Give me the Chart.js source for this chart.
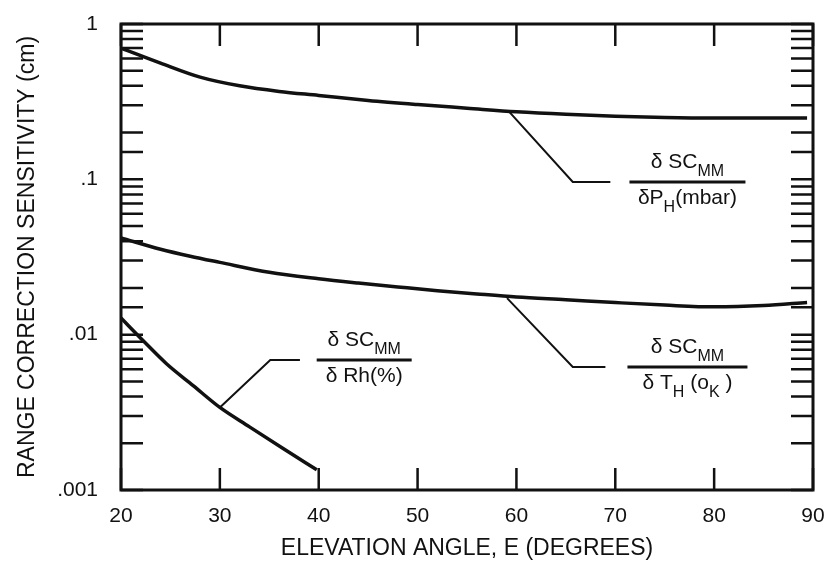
<!DOCTYPE html>
<html>
<head>
<meta charset="utf-8">
<script src="https://cdn.jsdelivr.net/npm/chart.js@4/dist/chart.umd.min.js"></script>
<style>
  body { margin: 0; background: #fff; }
  canvas { display: block; }
</style>
</head>
<body>
<canvas id="sensChart" width="824" height="562"></canvas>
<script>
// Elevation angle (degrees) and sensitivity (cm)
const elevP = [20, 24, 28, 32, 36, 40, 45, 50, 55, 60, 65, 70, 75, 80, 85, 89.4];
const sensP = [0.70, 0.56, 0.455, 0.40, 0.368, 0.347, 0.322, 0.303, 0.287, 0.272, 0.262, 0.255, 0.25, 0.248, 0.248, 0.248];

const elevT = [20, 24, 27, 30, 35, 40, 44, 48, 52, 56, 60, 65, 70, 75, 80, 85, 89.4];
const sensT = [0.042, 0.0355, 0.032, 0.0292, 0.0252, 0.0229, 0.0215, 0.0203, 0.0192, 0.0183, 0.0175, 0.0168, 0.0161, 0.0155, 0.0151, 0.0154, 0.0161];

const elevRh = [20, 22.2, 24.6, 27.3, 30, 33, 36.4, 39.8];
const sensRh = [0.0128, 0.0092, 0.0065, 0.0047, 0.0034, 0.00255, 0.00185, 0.00135];

// Axis ticks
const xTicks = [20, 30, 40, 50, 60, 70, 80, 90];
const yTickValues = [0.001, 0.01, 0.1, 1];
const yTickLabels = ['.001', '.01', '.1', '1'];

const ink = '#111';
const family = '"Liberation Sans", Arial, sans-serif';

// Curve labels: leader line (data units) and fraction text
const curveLabels = [
    {
        leader: [[59.3, 0.271], [65.7, 0.0961], [69.5, 0.0961]],
        at: [77.3, 0.0961], lineWidth: 116,
        num: [{ t: 'δ SC' }, { t: 'MM', sub: true }],
        den: [{ t: 'δP' }, { t: 'H', sub: true }, { t: '(mbar)' }]
    },
    {
        leader: [[59.05, 0.0172], [65.7, 0.0062], [69.0, 0.0062]],
        at: [77.3, 0.0062], lineWidth: 120,
        num: [{ t: 'δ SC' }, { t: 'MM', sub: true }],
        den: [{ t: 'δ T' }, { t: 'H', sub: true }, { t: ' (o' }, { t: 'K', sub: true }, { t: ' )' }]
    },
    {
        leader: [[30.0, 0.0034], [35.1, 0.00687], [38.1, 0.00687]],
        at: [44.6, 0.00687], lineWidth: 95,
        num: [{ t: 'δ SC' }, { t: 'MM', sub: true }],
        den: [{ t: 'δ Rh(%)' }]
    }
];

function toPoints(xs, ys) {
    return xs.map((x, i) => ({ x: x, y: ys[i] }));
}

// Width of a run of text pieces (some subscripted)
function partsWidth(ctx, parts) {
    let w = 0;
    parts.forEach(p => {
        ctx.font = (p.sub ? '16px ' : '21px ') + family;
        w += ctx.measureText(p.t).width;
    });
    return w;
}

function drawParts(ctx, parts, cx, baseline) {
    let x = cx - partsWidth(ctx, parts) / 2;
    parts.forEach(p => {
        ctx.font = (p.sub ? '16px ' : '21px ') + family;
        ctx.fillText(p.t, x, baseline + (p.sub ? 8 : 0));
        x += ctx.measureText(p.t).width;
    });
}

// Frame, inward ticks, leader lines and fraction labels
const framePlugin = {
    id: 'framePlugin',
    afterDatasetsDraw(chart) {
        const { ctx, chartArea: a, scales: { x, y } } = chart;
        const tickLen = 22;
        ctx.save();
        ctx.strokeStyle = ink;
        ctx.fillStyle = ink;

        ctx.lineWidth = 2.5;
        ctx.beginPath();
        y.ticks.forEach(t => {
            const py = y.getPixelForValue(t.value);
            ctx.moveTo(a.left, py);
            ctx.lineTo(a.left + tickLen, py);
            ctx.moveTo(a.right, py);
            ctx.lineTo(a.right - tickLen, py);
        });
        x.ticks.forEach(t => {
            const px = x.getPixelForValue(t.value);
            ctx.moveTo(px, a.bottom);
            ctx.lineTo(px, a.bottom - tickLen);
            ctx.moveTo(px, a.top);
            ctx.lineTo(px, a.top + tickLen);
        });
        ctx.stroke();

        ctx.lineWidth = 3;
        ctx.strokeRect(a.left, a.top, a.width, a.height);

        curveLabels.forEach(lab => {
            ctx.lineWidth = 2;
            ctx.beginPath();
            lab.leader.forEach((p, i) => {
                const px = x.getPixelForValue(p[0]);
                const py = y.getPixelForValue(p[1]);
                if (i === 0) ctx.moveTo(px, py); else ctx.lineTo(px, py);
            });
            ctx.stroke();

            const cx = x.getPixelForValue(lab.at[0]);
            const cy = y.getPixelForValue(lab.at[1]);
            ctx.lineWidth = 3;
            ctx.beginPath();
            ctx.moveTo(cx - lab.lineWidth / 2, cy);
            ctx.lineTo(cx + lab.lineWidth / 2, cy);
            ctx.stroke();

            ctx.textBaseline = 'alphabetic';
            ctx.textAlign = 'left';
            drawParts(ctx, lab.num, cx, cy - 14);
            drawParts(ctx, lab.den, cx, cy + 22);
        });
        ctx.restore();
    }
};

function curve(xs, ys) {
    return {
        data: toPoints(xs, ys),
        borderColor: ink,
        borderWidth: 3.5,
        pointRadius: 0,
        cubicInterpolationMode: 'monotone',
        fill: false
    };
}

const ctx = document.getElementById('sensChart').getContext('2d');
new Chart(ctx, {
    type: 'line',
    data: {
        datasets: [curve(elevP, sensP), curve(elevT, sensT), curve(elevRh, sensRh)]
    },
    options: {
        responsive: false,
        animation: false,
        layout: { padding: { top: 24, right: 11, left: 0, bottom: 0 } },
        plugins: { legend: { display: false }, tooltip: { enabled: false } },
        scales: {
            x: {
                type: 'linear',
                min: 20,
                max: 90,
                border: { display: false },
                grid: { display: false, drawTicks: false },
                afterBuildTicks: s => { s.ticks = xTicks.map(v => ({ value: v })); },
                ticks: {
                    autoSkip: false,
                    maxRotation: 0,
                    padding: 14,
                    color: ink,
                    font: { family: family, size: 21 }
                },
                title: {
                    display: true,
                    text: 'ELEVATION ANGLE, E (DEGREES)',
                    color: ink,
                    font: { family: family, size: 23 },
                    padding: { top: 0, bottom: 0 }
                },
                afterFit: s => {
                    s.height = 72;
                    s.paddingLeft = 0;
                    s.paddingRight = 0;
                }
            },
            y: {
                type: 'logarithmic',
                min: 0.001,
                max: 1,
                border: { display: false },
                grid: { display: false, drawTicks: false },
                ticks: {
                    autoSkip: false,
                    padding: 23,
                    color: ink,
                    font: { family: family, size: 21 },
                    callback: v => {
                        const i = yTickValues.findIndex(d => Math.abs(d - v) < d * 1e-6);
                        return i >= 0 ? yTickLabels[i] : '';
                    }
                },
                title: {
                    display: true,
                    text: 'RANGE CORRECTION SENSITIVITY (cm)',
                    color: ink,
                    font: { family: family, size: 23 },
                    padding: { top: 14, bottom: 0 }
                },
                afterFit: s => {
                    s.width = 121;
                    s.paddingTop = 0;
                    s.paddingBottom = 0;
                }
            }
        }
    },
    plugins: [framePlugin]
});
</script>
</body>
</html>
